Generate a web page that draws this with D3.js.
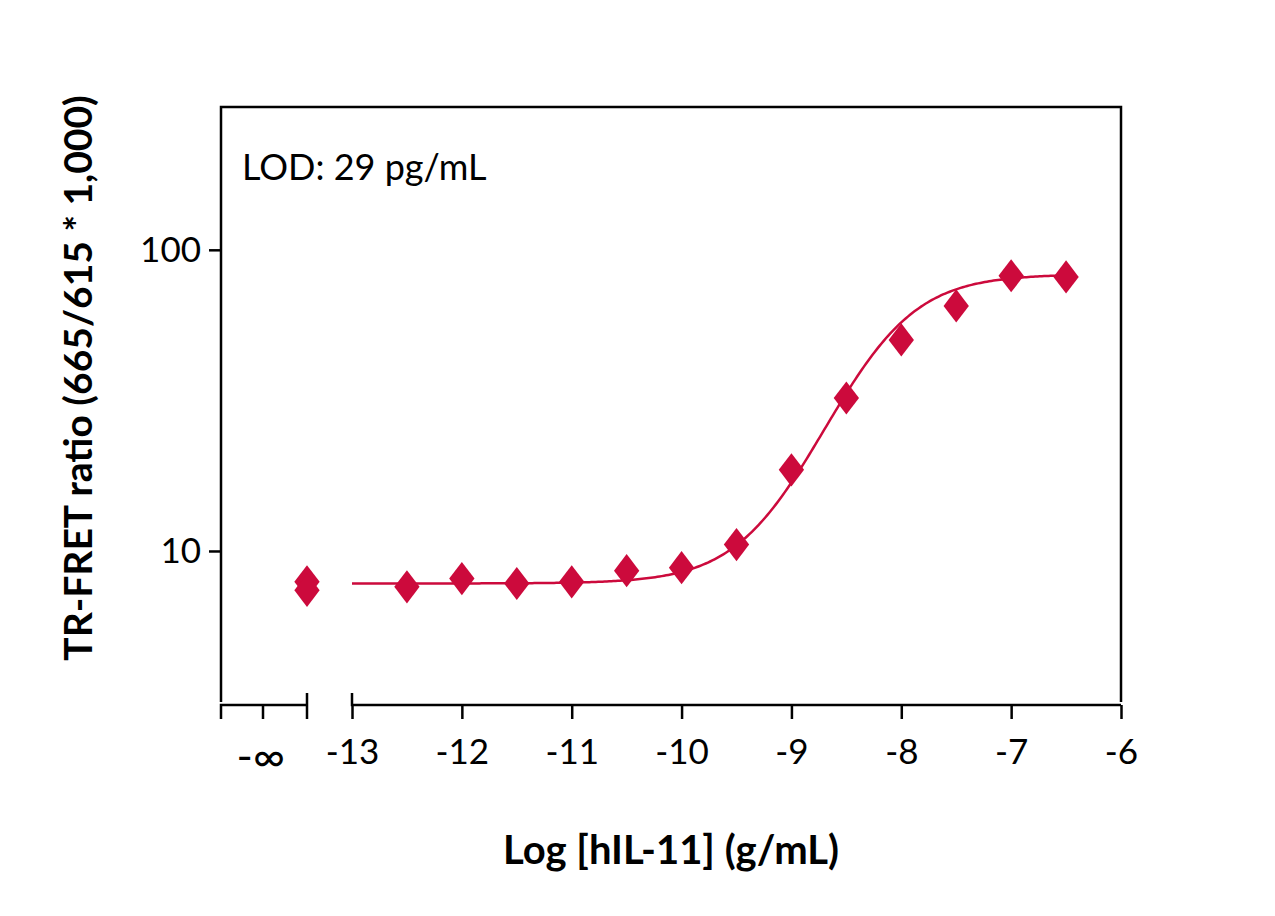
<!DOCTYPE html>
<html><head><meta charset="utf-8">
<script src="https://cdn.jsdelivr.net/npm/d3@7"></script>
<style>body{margin:0;background:#fff}text{font-family:Lato,"Open Sans",sans-serif}</style>
</head><body><svg id="c" width="1275" height="916"></svg>
<script>
const xTicks=[-13,-12,-11,-10,-9,-8,-7,-6];
const yTicks=[10,100];
const xLogConc=[-12.5,-12,-11.5,-11,-10.5,-10,-9.5,-9,-8.5,-8,-7.5,-7,-6.5];
const yRatio=[7.6,8.1,7.8,7.9,8.6,8.8,10.5,18.6,32.2,50.2,65.1,82,81.3];
const yBlank=[7.9,7.4];
const fitBottom=7.8, fitTop=83, fitLogEC50=-8.25, fitHill=1.15;

const svg=d3.select("#c");
const L=221,R=1121,T=107,B=705;
const x=d3.scaleLinear().domain([-13,-6]).range([352,R]);
const y=d3.scaleLog().domain([3.08,298]).range([B,T]);
const blankX=307;
const col="#cc0a3c";

svg.append("rect").attr("x",L).attr("y",T).attr("width",R-L).attr("height",B-T).attr("fill","none").attr("stroke","#000").attr("stroke-width",2.5);
const ya=svg.append("g").attr("transform",`translate(${L},0)`).call(d3.axisLeft(y).tickValues(yTicks).tickFormat(d3.format("d")).tickSize(12).tickPadding(8));
ya.select(".domain").remove();
ya.selectAll("line").attr("stroke-width",2.5);
ya.selectAll("text").attr("font-size",35).attr("fill","#000");
svg.append("rect").attr("x",L-2).attr("y",B-3).attr("width",R-L+4).attr("height",8).attr("fill","#fff");
const xa=svg.append("g").attr("transform",`translate(0,${B})`).call(d3.axisBottom(x).tickValues(xTicks).tickFormat(d3.format("d")).tickSize(14).tickPadding(20));
xa.select(".domain").attr("stroke-width",2.5).attr("d",`M${x(-13)},-12V0H${R}`);
xa.selectAll("line").attr("stroke-width",2.5);
xa.selectAll("text").attr("font-size",35).attr("fill","#000").text(d=>d<0?"-"+Math.abs(d):d);
const lg=svg.append("g").attr("stroke","#000").attr("stroke-width",2.5).attr("fill","none");
lg.append("path").attr("d",`M${L},${B+14}V${B}H${blankX}V${B-12}M${blankX},${B}V${B+14}M263,${B}V${B+14}`);
svg.append("text").attr("x",261).attr("y",B+67).attr("text-anchor","middle").attr("font-size",44).text("-∞");
const xs=d3.range(-13,-6.5+1e-9,0.02);
const f=v=>fitBottom+(fitTop-fitBottom)/(1+Math.pow(10,fitHill*(fitLogEC50-v)));
svg.append("path").datum(xs).attr("fill","none").attr("stroke",col).attr("stroke-width",2.5)
 .attr("d",d3.line().x(d=>x(d)).y(d=>y(f(d))));
const sym=d3.symbol().type(d3.symbolDiamond).size(420);
const pts=xLogConc.map((v,i)=>[x(v),y(yRatio[i])]).concat(yBlank.map(v=>[blankX,y(v)]));
svg.selectAll(".p").data(pts).join("path").attr("d",sym).attr("fill",col)
 .attr("transform",d=>`translate(${d[0]},${d[1]}) scale(1.15,0.87)`);
svg.append("text").attr("x",242).attr("y",180).attr("font-size",36).text("LOD: 29 pg/mL");
svg.append("text").attr("x",671).attr("y",864).attr("text-anchor","middle").attr("font-size",40).attr("font-weight","bold").text("Log [hIL-11] (g/mL)");
svg.append("text").attr("transform","translate(92,378) rotate(-90)").attr("text-anchor","middle").attr("font-size",39).attr("font-weight","bold").text("TR-FRET ratio (665/615 * 1,000)");
</script></body></html>
